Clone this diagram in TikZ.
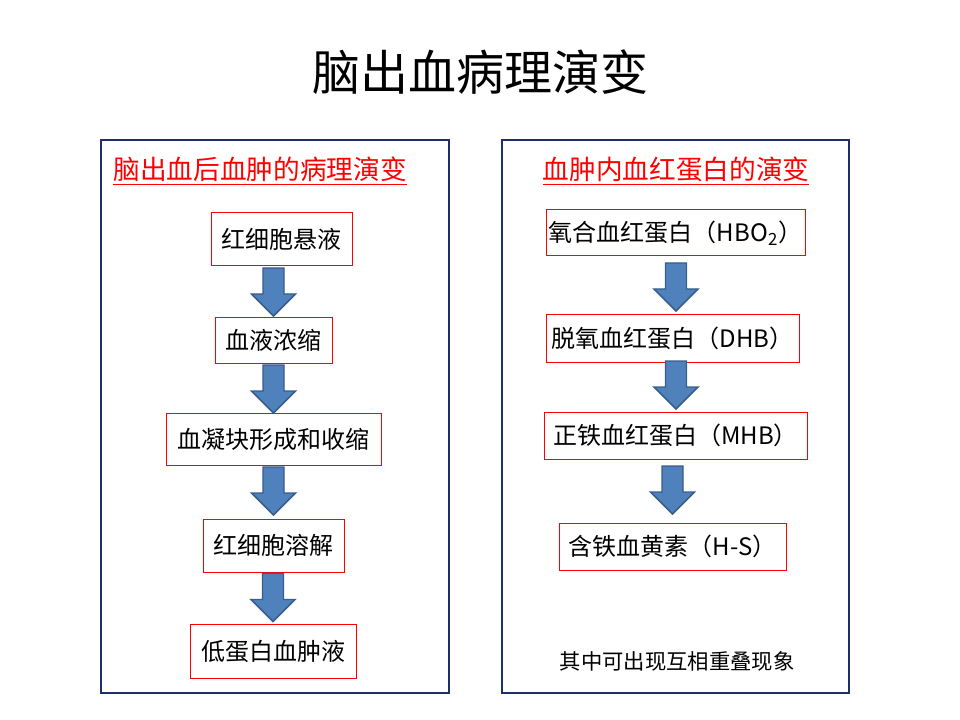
\documentclass[tikz,border=0pt]{standalone}
\usepackage{fontspec}
\setmainfont{Noto Sans CJK SC}
\usetikzlibrary{calc}
\definecolor{panelblue}{HTML}{1F2F6B}
\definecolor{arrowfill}{HTML}{4F81BD}
\definecolor{arrowdraw}{HTML}{385D8A}
\tikzset{
  panel/.style={draw=panelblue, line width=0.9pt, inner sep=0pt},
  stepbox/.style={draw=red, line width=0.75pt, inner sep=0pt, font=\fontsize{18pt}{20pt}\selectfont},
  heading/.style={text=red, inner sep=0pt, font=\fontsize{20pt}{22pt}\selectfont},
  blockarrow/.pic={
    \draw[fill=arrowfill, draw=arrowdraw, line width=1.1pt, line join=miter]
      (-10.5,0) -- (10.5,0) -- (10.5,26) -- (22,26) -- (0,48) -- (-22,26) -- (-10.5,26) -- cycle;
  }
}
\begin{document}
\begin{tikzpicture}[x=0.75pt,y=-0.75pt]
\useasboundingbox (0,0) rectangle (960,720);
% title
\node[font=\fontsize{36pt}{40pt}\selectfont, inner sep=0pt] (title) at (480,72) {脑出血病理演变};
% panels
\node[panel, minimum width=348*0.75pt, minimum height=553*0.75pt] (lp) at (275,416.5) {};
\node[panel, minimum width=347*0.75pt, minimum height=553*0.75pt] (rp) at (675.5,416.5) {};
% headings
\node[heading] (lh) at (260,171) {\underline{脑出血后血肿的病理演变}};
\node[heading] (rh) at (676,171) {\underline{血肿内血红蛋白的演变}};
% left boxes
\node[stepbox, minimum width=141*0.75pt, minimum height=53*0.75pt] (l1) at (281.5,239.5) {红细胞悬液};
\node[stepbox, minimum width=117*0.75pt, minimum height=46*0.75pt] (l2) at (273.5,340) {血液浓缩};
\node[stepbox, minimum width=215*0.75pt, minimum height=52*0.75pt] (l3) at (273.5,439) {血凝块形成和收缩};
\node[stepbox, minimum width=141*0.75pt, minimum height=53*0.75pt] (l4) at (273.5,545.5) {红细胞溶解};
\node[stepbox, minimum width=166*0.75pt, minimum height=54*0.75pt] (l5) at (273,651) {低蛋白血肿液};
% left arrows (from box to next box)
\pic at ($(l1.south -| l2.north)+(0,1.5)$) {blockarrow};
\pic at ($(l2.south -| l3.north)+(0,1.5)$) {blockarrow};
\pic at ($(l3.south -| l4.north)+(0,1.5)$) {blockarrow};
\pic at ($(l4.south -| l5.north)+(0,1)$) {blockarrow};
% right boxes
\node[stepbox, minimum width=259*0.75pt, minimum height=46*0.75pt] (r1) at (675.5,233) {氧合血红蛋白（HBO\textsubscript{2}）};
\node[stepbox, minimum width=253*0.75pt, minimum height=48*0.75pt] (r2) at (672.5,338) {脱氧血红蛋白（DHB）};
\node[stepbox, minimum width=263*0.75pt, minimum height=47*0.75pt] (r3) at (675.5,435.5) {正铁血红蛋白（MHB）};
\node[stepbox, minimum width=227*0.75pt, minimum height=47*0.75pt] (r4) at (672.5,546.5) {含铁血黄素（H-S）};
% right arrows
\coordinate (ra1) at (676,263);
\coordinate (ra2) at (676,361);
\coordinate (ra3) at (672.5,466);
\pic at (ra1) {blockarrow};
\pic at (ra2) {blockarrow};
\pic at (ra3) {blockarrow};
% footer
\node[font=\fontsize{16pt}{18pt}\selectfont, inner sep=0pt] (foot) at (677,661) {其中可出现互相重叠现象};
\end{tikzpicture}
\end{document}
